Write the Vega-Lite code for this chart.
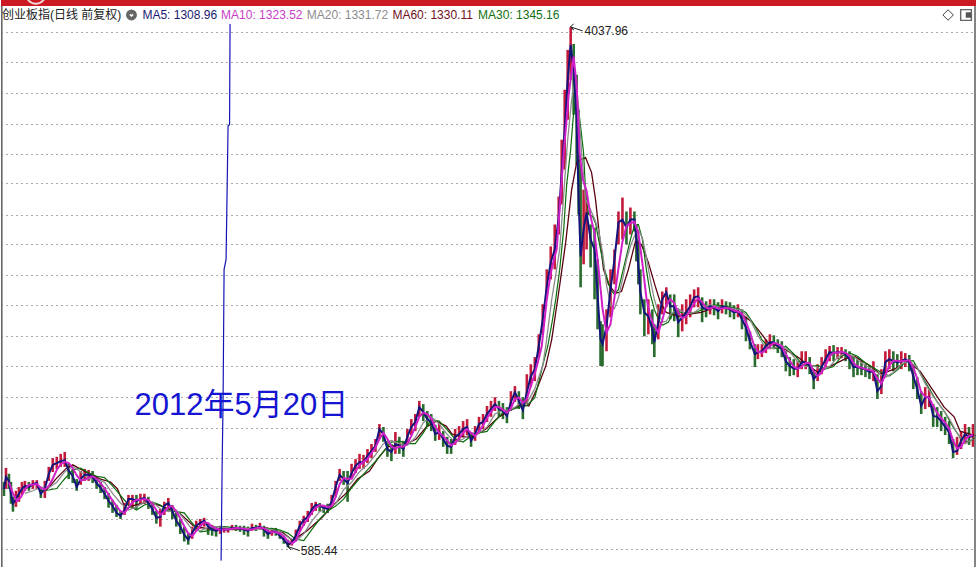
{"$schema":"https://vega.github.io/schema/vega-lite/v6.json","width":979,"height":567,"autosize":{"type":"fit","contains":"padding"},"padding":0,"background":"white","config":{"view":{"stroke":null},"axis":{"title":null},"font":"Liberation Sans"},
"datasets":{
"candles":[{"x":3,"h":746,"l":708,"c":727,"k":"d"},{"x":5,"h":786,"l":727,"c":760,"k":"u"},{"x":8,"h":769,"l":727,"c":749,"k":"d"},{"x":10,"h":746,"l":688,"c":714,"k":"d"},{"x":12,"h":706,"l":668,"c":688,"k":"d"},{"x":15,"h":722,"l":680,"c":700,"k":"u"},{"x":18,"h":732,"l":693,"c":714,"k":"u"},{"x":21,"h":746,"l":711,"c":727,"k":"u"},{"x":24,"h":749,"l":722,"c":735,"k":"u"},{"x":28,"h":746,"l":722,"c":732,"k":"d"},{"x":32,"h":751,"l":727,"c":740,"k":"u"},{"x":36,"h":751,"l":727,"c":743,"k":"u"},{"x":40,"h":727,"l":703,"c":714,"k":"d"},{"x":44,"h":749,"l":703,"c":727,"k":"u"},{"x":48,"h":789,"l":749,"c":769,"k":"u"},{"x":52,"h":815,"l":774,"c":795,"k":"u"},{"x":56,"h":819,"l":783,"c":800,"k":"u"},{"x":60,"h":828,"l":789,"c":806,"k":"u"},{"x":64,"h":834,"l":789,"c":809,"k":"u"},{"x":68,"h":798,"l":754,"c":777,"k":"d"},{"x":72,"h":783,"l":743,"c":763,"k":"d"},{"x":76,"h":754,"l":722,"c":732,"k":"d"},{"x":80,"h":777,"l":738,"c":754,"k":"u"},{"x":84,"h":783,"l":749,"c":766,"k":"u"},{"x":88,"h":780,"l":749,"c":766,"k":"u"},{"x":92,"h":777,"l":743,"c":760,"k":"d"},{"x":96,"h":763,"l":727,"c":743,"k":"d"},{"x":100,"h":746,"l":716,"c":730,"k":"d"},{"x":104,"h":732,"l":700,"c":714,"k":"d"},{"x":108,"h":716,"l":678,"c":695,"k":"d"},{"x":112,"h":698,"l":665,"c":683,"k":"d"},{"x":116,"h":685,"l":655,"c":665,"k":"d"},{"x":120,"h":670,"l":650,"c":658,"k":"d"},{"x":124,"h":690,"l":660,"c":673,"k":"u"},{"x":128,"h":711,"l":683,"c":700,"k":"u"},{"x":132,"h":711,"l":675,"c":700,"k":"u"},{"x":136,"h":711,"l":675,"c":695,"k":"d"},{"x":140,"h":714,"l":685,"c":700,"k":"u"},{"x":144,"h":714,"l":688,"c":703,"k":"u"},{"x":148,"h":706,"l":675,"c":690,"k":"d"},{"x":152,"h":690,"l":660,"c":675,"k":"d"},{"x":156,"h":670,"l":639,"c":653,"k":"d"},{"x":160,"h":675,"l":632,"c":655,"k":"u"},{"x":164,"h":693,"l":660,"c":683,"k":"u"},{"x":168,"h":703,"l":675,"c":690,"k":"u"},{"x":172,"h":685,"l":650,"c":670,"k":"d"},{"x":176,"h":665,"l":632,"c":646,"k":"d"},{"x":180,"h":650,"l":615,"c":632,"k":"d"},{"x":184,"h":632,"l":598,"c":613,"k":"d"},{"x":188,"h":618,"l":591,"c":602,"k":"d"},{"x":192,"h":632,"l":604,"c":618,"k":"u"},{"x":196,"h":646,"l":622,"c":634,"k":"u"},{"x":200,"h":650,"l":627,"c":641,"k":"u"},{"x":204,"h":653,"l":632,"c":646,"k":"u"},{"x":208,"h":641,"l":613,"c":632,"k":"d"},{"x":212,"h":636,"l":611,"c":625,"k":"d"},{"x":216,"h":632,"l":609,"c":622,"k":"d"},{"x":220,"h":634,"l":615,"c":627,"k":"u"},{"x":224,"h":632,"l":618,"c":625,"k":"u"},{"x":228,"h":629,"l":618,"c":625,"k":"u"},{"x":232,"h":636,"l":625,"c":629,"k":"u"},{"x":236,"h":636,"l":622,"c":629,"k":"d"},{"x":240,"h":634,"l":620,"c":627,"k":"d"},{"x":244,"h":634,"l":613,"c":625,"k":"d"},{"x":248,"h":632,"l":609,"c":622,"k":"d"},{"x":252,"h":639,"l":622,"c":629,"k":"u"},{"x":256,"h":636,"l":622,"c":629,"k":"d"},{"x":260,"h":641,"l":625,"c":632,"k":"u"},{"x":264,"h":634,"l":609,"c":625,"k":"d"},{"x":268,"h":625,"l":604,"c":615,"k":"d"},{"x":272,"h":627,"l":611,"c":620,"k":"u"},{"x":276,"h":629,"l":611,"c":620,"k":"d"},{"x":280,"h":620,"l":604,"c":611,"k":"d"},{"x":284,"h":611,"l":593,"c":602,"k":"d"},{"x":288,"h":602,"l":585.44,"c":591,"k":"d"},{"x":292,"h":604,"l":589,"c":596,"k":"u"},{"x":296,"h":625,"l":602,"c":611,"k":"u"},{"x":300,"h":646,"l":622,"c":634,"k":"u"},{"x":304,"h":658,"l":634,"c":648,"k":"u"},{"x":308,"h":670,"l":643,"c":655,"k":"u"},{"x":312,"h":690,"l":660,"c":673,"k":"u"},{"x":316,"h":693,"l":670,"c":685,"k":"u"},{"x":320,"h":690,"l":668,"c":683,"k":"d"},{"x":324,"h":685,"l":665,"c":678,"k":"d"},{"x":328,"h":688,"l":665,"c":675,"k":"d"},{"x":332,"h":711,"l":683,"c":693,"k":"u"},{"x":336,"h":749,"l":706,"c":732,"k":"u"},{"x":340,"h":783,"l":749,"c":766,"k":"u"},{"x":344,"h":777,"l":738,"c":754,"k":"d"},{"x":348,"h":777,"l":693,"c":743,"k":"d"},{"x":352,"h":798,"l":754,"c":771,"k":"u"},{"x":356,"h":812,"l":771,"c":792,"k":"u"},{"x":360,"h":828,"l":783,"c":803,"k":"u"},{"x":364,"h":825,"l":783,"c":803,"k":"u"},{"x":368,"h":843,"l":800,"c":822,"k":"u"},{"x":372,"h":859,"l":815,"c":837,"k":"u"},{"x":376,"h":875,"l":834,"c":853,"k":"u"},{"x":380,"h":925,"l":875,"c":908,"k":"u"},{"x":384,"h":915,"l":866,"c":891,"k":"d"},{"x":388,"h":869,"l":819,"c":843,"k":"d"},{"x":392,"h":859,"l":806,"c":834,"k":"d"},{"x":396,"h":898,"l":828,"c":859,"k":"u"},{"x":400,"h":882,"l":828,"c":853,"k":"d"},{"x":404,"h":869,"l":819,"c":843,"k":"d"},{"x":408,"h":908,"l":856,"c":882,"k":"u"},{"x":412,"h":942,"l":888,"c":915,"k":"u"},{"x":416,"h":960,"l":901,"c":932,"k":"u"},{"x":420,"h":1008,"l":950,"c":985,"k":"u"},{"x":424,"h":996,"l":935,"c":967,"k":"d"},{"x":428,"h":971,"l":915,"c":942,"k":"d"},{"x":432,"h":960,"l":901,"c":932,"k":"d"},{"x":436,"h":922,"l":869,"c":891,"k":"d"},{"x":440,"h":928,"l":872,"c":898,"k":"u"},{"x":444,"h":901,"l":850,"c":875,"k":"d"},{"x":448,"h":882,"l":828,"c":853,"k":"d"},{"x":452,"h":875,"l":828,"c":850,"k":"d"},{"x":456,"h":908,"l":856,"c":882,"k":"u"},{"x":460,"h":918,"l":866,"c":891,"k":"u"},{"x":464,"h":935,"l":882,"c":908,"k":"u"},{"x":468,"h":942,"l":888,"c":915,"k":"u"},{"x":472,"h":895,"l":850,"c":869,"k":"d"},{"x":476,"h":918,"l":869,"c":891,"k":"u"},{"x":480,"h":950,"l":898,"c":925,"k":"u"},{"x":484,"h":960,"l":908,"c":932,"k":"u"},{"x":488,"h":989,"l":932,"c":960,"k":"u"},{"x":492,"h":1008,"l":950,"c":978,"k":"u"},{"x":496,"h":1022,"l":971,"c":996,"k":"u"},{"x":500,"h":1008,"l":950,"c":978,"k":"d"},{"x":504,"h":1000,"l":942,"c":971,"k":"d"},{"x":508,"h":985,"l":928,"c":953,"k":"d"},{"x":512,"h":1045,"l":971,"c":1004,"k":"u"},{"x":516,"h":1065,"l":1004,"c":1041,"k":"u"},{"x":520,"h":1045,"l":978,"c":1008,"k":"d"},{"x":524,"h":1022,"l":942,"c":974,"k":"d"},{"x":528,"h":1113,"l":996,"c":1041,"k":"u"},{"x":532,"h":1155,"l":1061,"c":1105,"k":"u"},{"x":536,"h":1186,"l":1085,"c":1134,"k":"u"},{"x":540,"h":1291,"l":1186,"c":1236,"k":"u"},{"x":544,"h":1443,"l":1291,"c":1365,"k":"u"},{"x":548,"h":1643,"l":1470,"c":1542,"k":"u"},{"x":552,"h":1789,"l":1583,"c":1686,"k":"u"},{"x":556,"h":1941,"l":1643,"c":1769,"k":"u"},{"x":560,"h":2153,"l":1870,"c":1999,"k":"u"},{"x":563,"h":2659,"l":2090,"c":2353,"k":"u"},{"x":566,"h":3201,"l":2379,"c":2760,"k":"u"},{"x":569,"h":3712,"l":2864,"c":3322,"k":"u"},{"x":572,"h":4037.96,"l":3322,"c":3782,"k":"u"},{"x":575,"h":3795,"l":2918,"c":3447,"k":"d"},{"x":578,"h":3384,"l":2424,"c":2864,"k":"d"},{"x":580,"h":2972,"l":2014,"c":2129,"k":"d"},{"x":582,"h":2424,"l":1537,"c":1724,"k":"d"},{"x":585,"h":2209,"l":1674,"c":1905,"k":"u"},{"x":588,"h":2169,"l":1769,"c":2029,"k":"u"},{"x":592,"h":1941,"l":1655,"c":1836,"k":"d"},{"x":596,"h":1917,"l":1470,"c":1769,"k":"d"},{"x":599,"h":1705,"l":1315,"c":1497,"k":"d"},{"x":602,"h":1355,"l":1147,"c":1267,"k":"d"},{"x":604,"h":1340,"l":1147,"c":1244,"k":"d"},{"x":608,"h":1416,"l":1212,"c":1330,"k":"u"},{"x":612,"h":1643,"l":1375,"c":1525,"k":"u"},{"x":616,"h":1769,"l":1554,"c":1705,"k":"u"},{"x":620,"h":2037,"l":1802,"c":1955,"k":"u"},{"x":624,"h":2145,"l":1836,"c":1977,"k":"u"},{"x":628,"h":2037,"l":1802,"c":1917,"k":"d"},{"x":632,"h":2067,"l":1870,"c":1977,"k":"u"},{"x":636,"h":2037,"l":1891,"c":1977,"k":"d"},{"x":638,"h":1941,"l":1692,"c":1836,"k":"d"},{"x":640,"h":1836,"l":1554,"c":1661,"k":"d"},{"x":642,"h":1643,"l":1390,"c":1509,"k":"d"},{"x":646,"h":1470,"l":1281,"c":1400,"k":"d"},{"x":650,"h":1470,"l":1291,"c":1380,"k":"u"},{"x":654,"h":1416,"l":1244,"c":1315,"k":"d"},{"x":656,"h":1340,"l":1186,"c":1253,"k":"d"},{"x":660,"h":1443,"l":1267,"c":1350,"k":"u"},{"x":664,"h":1513,"l":1390,"c":1470,"k":"u"},{"x":668,"h":1537,"l":1427,"c":1509,"k":"u"},{"x":672,"h":1497,"l":1365,"c":1432,"k":"d"},{"x":676,"h":1497,"l":1355,"c":1432,"k":"d"},{"x":680,"h":1416,"l":1277,"c":1350,"k":"d"},{"x":684,"h":1443,"l":1305,"c":1375,"k":"u"},{"x":688,"h":1470,"l":1340,"c":1400,"k":"u"},{"x":692,"h":1497,"l":1375,"c":1432,"k":"u"},{"x":696,"h":1525,"l":1427,"c":1481,"k":"u"},{"x":700,"h":1537,"l":1427,"c":1486,"k":"u"},{"x":704,"h":1481,"l":1350,"c":1427,"k":"d"},{"x":708,"h":1459,"l":1375,"c":1416,"k":"d"},{"x":712,"h":1470,"l":1390,"c":1432,"k":"u"},{"x":716,"h":1470,"l":1385,"c":1427,"k":"d"},{"x":720,"h":1454,"l":1365,"c":1406,"k":"d"},{"x":724,"h":1470,"l":1395,"c":1432,"k":"u"},{"x":728,"h":1459,"l":1390,"c":1427,"k":"d"},{"x":732,"h":1454,"l":1375,"c":1416,"k":"d"},{"x":736,"h":1438,"l":1365,"c":1400,"k":"d"},{"x":740,"h":1443,"l":1375,"c":1406,"k":"u"},{"x":744,"h":1416,"l":1315,"c":1365,"k":"d"},{"x":748,"h":1375,"l":1258,"c":1325,"k":"d"},{"x":752,"h":1305,"l":1221,"c":1258,"k":"d"},{"x":757,"h":1244,"l":1143,"c":1199,"k":"d"},{"x":760,"h":1244,"l":1177,"c":1208,"k":"u"},{"x":764,"h":1244,"l":1186,"c":1212,"k":"u"},{"x":768,"h":1267,"l":1204,"c":1236,"k":"u"},{"x":772,"h":1291,"l":1221,"c":1253,"k":"u"},{"x":776,"h":1286,"l":1221,"c":1253,"k":"d"},{"x":780,"h":1267,"l":1204,"c":1236,"k":"d"},{"x":784,"h":1258,"l":1186,"c":1221,"k":"d"},{"x":788,"h":1212,"l":1125,"c":1168,"k":"d"},{"x":792,"h":1186,"l":1105,"c":1147,"k":"d"},{"x":796,"h":1177,"l":1109,"c":1138,"k":"d"},{"x":800,"h":1168,"l":1101,"c":1134,"k":"u"},{"x":804,"h":1212,"l":1134,"c":1164,"k":"u"},{"x":808,"h":1212,"l":1134,"c":1164,"k":"u"},{"x":812,"h":1186,"l":1113,"c":1147,"k":"d"},{"x":816,"h":1134,"l":1053,"c":1093,"k":"d"},{"x":820,"h":1155,"l":1085,"c":1113,"k":"u"},{"x":824,"h":1186,"l":1113,"c":1143,"k":"u"},{"x":828,"h":1221,"l":1143,"c":1177,"k":"u"},{"x":832,"h":1236,"l":1168,"c":1208,"k":"u"},{"x":836,"h":1240,"l":1168,"c":1204,"k":"d"},{"x":840,"h":1231,"l":1177,"c":1208,"k":"u"},{"x":844,"h":1231,"l":1181,"c":1208,"k":"u"},{"x":848,"h":1221,"l":1168,"c":1199,"k":"d"},{"x":852,"h":1212,"l":1134,"c":1177,"k":"d"},{"x":856,"h":1186,"l":1101,"c":1143,"k":"d"},{"x":860,"h":1177,"l":1109,"c":1143,"k":"d"},{"x":864,"h":1168,"l":1109,"c":1138,"k":"d"},{"x":868,"h":1155,"l":1101,"c":1134,"k":"d"},{"x":872,"h":1151,"l":1093,"c":1121,"k":"d"},{"x":876,"h":1168,"l":1085,"c":1125,"k":"u"},{"x":880,"h":1113,"l":1015,"c":1045,"k":"d"},{"x":884,"h":1134,"l":1034,"c":1065,"k":"u"},{"x":888,"h":1212,"l":1113,"c":1164,"k":"u"},{"x":892,"h":1221,"l":1134,"c":1177,"k":"u"},{"x":896,"h":1212,"l":1125,"c":1168,"k":"d"},{"x":900,"h":1199,"l":1134,"c":1164,"k":"d"},{"x":904,"h":1212,"l":1134,"c":1168,"k":"u"},{"x":908,"h":1204,"l":1143,"c":1177,"k":"u"},{"x":912,"h":1195,"l":1125,"c":1164,"k":"d"},{"x":916,"h":1155,"l":1053,"c":1105,"k":"d"},{"x":920,"h":1101,"l":1015,"c":1053,"k":"d"},{"x":924,"h":1045,"l":960,"c":989,"k":"d"},{"x":928,"h":1061,"l":978,"c":1022,"k":"u"},{"x":932,"h":1053,"l":985,"c":1022,"k":"u"},{"x":936,"h":996,"l":915,"c":953,"k":"d"},{"x":940,"h":985,"l":915,"c":950,"k":"d"},{"x":944,"h":971,"l":901,"c":935,"k":"d"},{"x":948,"h":950,"l":888,"c":915,"k":"d"},{"x":952,"h":935,"l":859,"c":898,"k":"d"},{"x":956,"h":875,"l":815,"c":834,"k":"d"},{"x":960,"h":882,"l":825,"c":837,"k":"u"},{"x":964,"h":901,"l":843,"c":869,"k":"u"},{"x":968,"h":925,"l":859,"c":891,"k":"u"},{"x":972,"h":915,"l":856,"c":882,"k":"d"},{"x":976,"h":925,"l":850,"c":885,"k":"u"}],
"ma10":[{"x":8,"v":745},{"x":12,"v":715},{"x":16,"v":695},{"x":20,"v":705},{"x":24,"v":725},{"x":28,"v":738},{"x":32,"v":738},{"x":36,"v":740},{"x":40,"v":730},{"x":44,"v":725},{"x":48,"v":735},{"x":52,"v":755},{"x":56,"v":780},{"x":60,"v":797},{"x":64,"v":804},{"x":68,"v":800},{"x":72,"v":785},{"x":76,"v":765},{"x":80,"v":750},{"x":84,"v":752},{"x":88,"v":758},{"x":92,"v":762},{"x":96,"v":755},{"x":100,"v":743},{"x":104,"v":728},{"x":108,"v":712},{"x":112,"v":696},{"x":116,"v":682},{"x":120,"v":669},{"x":124,"v":665},{"x":128,"v":678},{"x":132,"v":692},{"x":136,"v":698},{"x":140,"v":698},{"x":144,"v":700},{"x":148,"v":698},{"x":152,"v":687},{"x":156,"v":672},{"x":160,"v":660},{"x":164,"v":668},{"x":168,"v":680},{"x":172,"v":682},{"x":176,"v":668},{"x":180,"v":652},{"x":184,"v":633},{"x":188,"v":616},{"x":192,"v":610},{"x":196,"v":622},{"x":200,"v":633},{"x":204,"v":642},{"x":208,"v":640},{"x":212,"v":632},{"x":216,"v":627},{"x":220,"v":625},{"x":224,"v":625},{"x":228,"v":626},{"x":232,"v":627},{"x":236,"v":629},{"x":240,"v":628},{"x":244,"v":627},{"x":248,"v":625},{"x":252,"v":625},{"x":256,"v":628},{"x":260,"v":630},{"x":264,"v":628},{"x":268,"v":622},{"x":272,"v":619},{"x":276,"v":619},{"x":280,"v":616},{"x":284,"v":609},{"x":288,"v":599},{"x":292,"v":593},{"x":296,"v":600},{"x":300,"v":620},{"x":304,"v":637},{"x":308,"v":650},{"x":312,"v":665},{"x":316,"v":678},{"x":320,"v":684},{"x":324,"v":683},{"x":328,"v":680},{"x":332,"v":682},{"x":336,"v":705},{"x":340,"v":740},{"x":344,"v":757},{"x":348,"v":755},{"x":352,"v":755},{"x":356,"v":775},{"x":360,"v":795},{"x":364,"v":803},{"x":368,"v":812},{"x":372,"v":830},{"x":376,"v":848},{"x":380,"v":875},{"x":384,"v":895},{"x":388,"v":875},{"x":392,"v":850},{"x":396,"v":845},{"x":400,"v":850},{"x":404,"v":850},{"x":408,"v":860},{"x":412,"v":885},{"x":416,"v":915},{"x":420,"v":950},{"x":424,"v":965},{"x":428,"v":960},{"x":432,"v":945},{"x":436,"v":915},{"x":440,"v":895},{"x":444,"v":885},{"x":448,"v":870},{"x":452,"v":855},{"x":456,"v":862},{"x":460,"v":878},{"x":464,"v":895},{"x":468,"v":908},{"x":472,"v":895},{"x":476,"v":885},{"x":480,"v":900},{"x":484,"v":920},{"x":488,"v":945},{"x":492,"v":967},{"x":496,"v":985},{"x":500,"v":985},{"x":504,"v":975},{"x":508,"v":965},{"x":512,"v":980},{"x":516,"v":1015},{"x":520,"v":1020},{"x":524,"v":1000},{"x":528,"v":1015},{"x":532,"v":1065},{"x":536,"v":1115},{"x":540,"v":1180},{"x":543,"v":1236},{"x":548,"v":1470},{"x":552,"v":1620},{"x":555,"v":1700},{"x":558,"v":1769},{"x":562,"v":2170},{"x":565,"v":2530},{"x":570,"v":3140},{"x":575,"v":3620},{"x":578,"v":3250},{"x":581,"v":2535},{"x":584,"v":2300},{"x":588,"v":2200},{"x":592,"v":2000},{"x":596,"v":1880},{"x":600,"v":1650},{"x":604,"v":1420},{"x":608,"v":1300},{"x":612,"v":1340},{"x":616,"v":1480},{"x":620,"v":1650},{"x":624,"v":1820},{"x":628,"v":1930},{"x":632,"v":1950},{"x":636,"v":1960},{"x":640,"v":1880},{"x":644,"v":1680},{"x":648,"v":1480},{"x":652,"v":1380},{"x":656,"v":1330},{"x":660,"v":1300},{"x":664,"v":1360},{"x":668,"v":1440},{"x":672,"v":1470},{"x":676,"v":1450},{"x":680,"v":1400},{"x":684,"v":1370},{"x":688,"v":1380},{"x":692,"v":1410},{"x":696,"v":1450},{"x":700,"v":1475},{"x":704,"v":1455},{"x":708,"v":1425},{"x":712,"v":1420},{"x":716,"v":1430},{"x":720,"v":1420},{"x":724,"v":1420},{"x":728,"v":1425},{"x":732,"v":1420},{"x":736,"v":1410},{"x":740,"v":1405},{"x":744,"v":1395},{"x":748,"v":1350},{"x":752,"v":1300},{"x":756,"v":1240},{"x":760,"v":1210},{"x":764,"v":1205},{"x":768,"v":1220},{"x":772,"v":1235},{"x":776,"v":1250},{"x":780,"v":1245},{"x":784,"v":1235},{"x":788,"v":1200},{"x":792,"v":1170},{"x":796,"v":1145},{"x":800,"v":1135},{"x":804,"v":1145},{"x":808,"v":1160},{"x":812,"v":1160},{"x":816,"v":1125},{"x":820,"v":1105},{"x":824,"v":1120},{"x":828,"v":1150},{"x":832,"v":1190},{"x":836,"v":1205},{"x":840,"v":1205},{"x":844,"v":1210},{"x":848,"v":1205},{"x":852,"v":1190},{"x":856,"v":1160},{"x":860,"v":1145},{"x":864,"v":1140},{"x":868,"v":1135},{"x":872,"v":1130},{"x":876,"v":1125},{"x":880,"v":1095},{"x":884,"v":1075},{"x":888,"v":1110},{"x":892,"v":1150},{"x":896,"v":1170},{"x":900,"v":1170},{"x":904,"v":1168},{"x":908,"v":1170},{"x":912,"v":1172},{"x":916,"v":1140},{"x":920,"v":1095},{"x":924,"v":1040},{"x":928,"v":1025},{"x":932,"v":1020},{"x":936,"v":990},{"x":940,"v":965},{"x":944,"v":945},{"x":948,"v":930},{"x":952,"v":910},{"x":956,"v":870},{"x":960,"v":845},{"x":964,"v":850},{"x":968,"v":872},{"x":972,"v":885},{"x":976,"v":888}],
"ma20":[{"x":24,"v":715},{"x":32,"v":722},{"x":40,"v":732},{"x":48,"v":730},{"x":56,"v":745},{"x":64,"v":775},{"x":72,"v":790},{"x":80,"v":775},{"x":88,"v":755},{"x":96,"v":755},{"x":104,"v":745},{"x":112,"v":715},{"x":120,"v":690},{"x":128,"v":672},{"x":136,"v":680},{"x":144,"v":692},{"x":152,"v":693},{"x":160,"v":675},{"x":168,"v":668},{"x":176,"v":672},{"x":184,"v":650},{"x":192,"v":625},{"x":200,"v":622},{"x":208,"v":630},{"x":216,"v":632},{"x":224,"v":630},{"x":232,"v":627},{"x":240,"v":627},{"x":248,"v":628},{"x":256,"v":627},{"x":264,"v":628},{"x":272,"v":625},{"x":280,"v":620},{"x":288,"v":608},{"x":296,"v":598},{"x":304,"v":615},{"x":312,"v":645},{"x":320,"v":668},{"x":328,"v":680},{"x":336,"v":688},{"x":344,"v":725},{"x":352,"v":745},{"x":360,"v":775},{"x":368,"v":795},{"x":376,"v":825},{"x":384,"v":860},{"x":392,"v":870},{"x":400,"v":860},{"x":408,"v":855},{"x":416,"v":880},{"x":424,"v":930},{"x":432,"v":950},{"x":440,"v":925},{"x":448,"v":890},{"x":456,"v":865},{"x":464,"v":875},{"x":472,"v":895},{"x":480,"v":895},{"x":488,"v":915},{"x":496,"v":960},{"x":504,"v":975},{"x":512,"v":975},{"x":520,"v":995},{"x":528,"v":1000},{"x":536,"v":1055},{"x":544,"v":1150},{"x":547,"v":1236},{"x":553,"v":1470},{"x":557,"v":1610},{"x":561,"v":1769},{"x":565,"v":2170},{"x":569,"v":2659},{"x":573,"v":3085},{"x":577,"v":3347},{"x":580,"v":3000},{"x":583,"v":2530},{"x":587,"v":2129},{"x":592,"v":2050},{"x":596,"v":1980},{"x":600,"v":1900},{"x":604,"v":1750},{"x":608,"v":1550},{"x":612,"v":1440},{"x":616,"v":1420},{"x":620,"v":1480},{"x":624,"v":1580},{"x":628,"v":1700},{"x":632,"v":1790},{"x":636,"v":1860},{"x":640,"v":1900},{"x":644,"v":1850},{"x":648,"v":1720},{"x":652,"v":1580},{"x":656,"v":1470},{"x":660,"v":1400},{"x":664,"v":1350},{"x":668,"v":1355},{"x":672,"v":1390},{"x":680,"v":1420},{"x":688,"v":1390},{"x":696,"v":1400},{"x":704,"v":1430},{"x":712,"v":1440},{"x":720,"v":1430},{"x":728,"v":1425},{"x":736,"v":1420},{"x":744,"v":1410},{"x":752,"v":1365},{"x":760,"v":1285},{"x":768,"v":1225},{"x":776,"v":1225},{"x":784,"v":1240},{"x":792,"v":1210},{"x":800,"v":1165},{"x":808,"v":1145},{"x":816,"v":1150},{"x":824,"v":1130},{"x":832,"v":1145},{"x":840,"v":1185},{"x":848,"v":1205},{"x":856,"v":1190},{"x":864,"v":1160},{"x":872,"v":1140},{"x":880,"v":1120},{"x":888,"v":1100},{"x":896,"v":1120},{"x":904,"v":1155},{"x":912,"v":1170},{"x":920,"v":1140},{"x":928,"v":1075},{"x":936,"v":1025},{"x":944,"v":985},{"x":952,"v":945},{"x":960,"v":895},{"x":968,"v":860},{"x":976,"v":875}],
"ma30":[{"x":40,"v":722},{"x":48,"v":724},{"x":56,"v":728},{"x":64,"v":755},{"x":72,"v":780},{"x":80,"v":785},{"x":88,"v":772},{"x":96,"v":762},{"x":104,"v":758},{"x":112,"v":735},{"x":120,"v":710},{"x":128,"v":685},{"x":136,"v":672},{"x":144,"v":685},{"x":152,"v":692},{"x":160,"v":685},{"x":168,"v":670},{"x":176,"v":668},{"x":184,"v":665},{"x":192,"v":640},{"x":200,"v":620},{"x":208,"v":622},{"x":216,"v":632},{"x":224,"v":632},{"x":232,"v":630},{"x":240,"v":628},{"x":248,"v":628},{"x":256,"v":627},{"x":264,"v":627},{"x":272,"v":628},{"x":280,"v":624},{"x":288,"v":617},{"x":296,"v":603},{"x":304,"v":600},{"x":312,"v":625},{"x":320,"v":650},{"x":328,"v":670},{"x":336,"v":682},{"x":344,"v":700},{"x":352,"v":730},{"x":360,"v":755},{"x":368,"v":780},{"x":376,"v":805},{"x":384,"v":835},{"x":392,"v":865},{"x":400,"v":868},{"x":408,"v":860},{"x":416,"v":860},{"x":424,"v":895},{"x":432,"v":940},{"x":440,"v":935},{"x":448,"v":905},{"x":456,"v":875},{"x":464,"v":865},{"x":472,"v":885},{"x":480,"v":895},{"x":488,"v":900},{"x":496,"v":935},{"x":504,"v":965},{"x":512,"v":975},{"x":520,"v":985},{"x":528,"v":990},{"x":536,"v":1020},{"x":544,"v":1150},{"x":549,"v":1236},{"x":553,"v":1340},{"x":557,"v":1470},{"x":561,"v":1643},{"x":565,"v":1905},{"x":568,"v":2250},{"x":572,"v":2563},{"x":575,"v":2950},{"x":578,"v":3117},{"x":581,"v":2880},{"x":585,"v":2530},{"x":587,"v":2185},{"x":590,"v":2014},{"x":594,"v":2000},{"x":597,"v":1950},{"x":600,"v":1836},{"x":606,"v":1643},{"x":612,"v":1525},{"x":616,"v":1497},{"x":620,"v":1525},{"x":626,"v":1674},{"x":632,"v":1836},{"x":636,"v":1934},{"x":640,"v":1941},{"x":644,"v":1836},{"x":648,"v":1643},{"x":652,"v":1497},{"x":656,"v":1416},{"x":660,"v":1365},{"x":664,"v":1335},{"x":670,"v":1350},{"x":676,"v":1406},{"x":684,"v":1400},{"x":692,"v":1395},{"x":700,"v":1405},{"x":708,"v":1425},{"x":716,"v":1440},{"x":724,"v":1435},{"x":732,"v":1428},{"x":740,"v":1420},{"x":748,"v":1400},{"x":756,"v":1340},{"x":764,"v":1265},{"x":772,"v":1225},{"x":780,"v":1225},{"x":788,"v":1235},{"x":796,"v":1200},{"x":804,"v":1155},{"x":812,"v":1145},{"x":820,"v":1150},{"x":828,"v":1135},{"x":836,"v":1145},{"x":844,"v":1190},{"x":852,"v":1205},{"x":860,"v":1190},{"x":868,"v":1160},{"x":876,"v":1140},{"x":884,"v":1120},{"x":892,"v":1105},{"x":900,"v":1130},{"x":908,"v":1165},{"x":916,"v":1170},{"x":924,"v":1110},{"x":932,"v":1055},{"x":940,"v":1005},{"x":948,"v":965},{"x":956,"v":915},{"x":964,"v":875},{"x":972,"v":865},{"x":978,"v":880}],
"ma60":[{"x":45,"v":722},{"x":55,"v":754},{"x":65,"v":783},{"x":72,"v":795},{"x":85,"v":774},{"x":100,"v":754},{"x":110,"v":746},{"x":117,"v":727},{"x":125,"v":675},{"x":133,"v":683},{"x":147,"v":693},{"x":160,"v":683},{"x":180,"v":663},{"x":193,"v":634},{"x":207,"v":627},{"x":233,"v":625},{"x":267,"v":629},{"x":283,"v":618},{"x":293,"v":600},{"x":307,"v":622},{"x":322,"v":653},{"x":333,"v":683},{"x":348,"v":719},{"x":358,"v":754},{"x":370,"v":777},{"x":378,"v":812},{"x":388,"v":850},{"x":407,"v":859},{"x":417,"v":875},{"x":427,"v":915},{"x":437,"v":935},{"x":447,"v":918},{"x":453,"v":891},{"x":463,"v":882},{"x":473,"v":882},{"x":487,"v":908},{"x":500,"v":950},{"x":510,"v":971},{"x":523,"v":996},{"x":530,"v":989},{"x":538,"v":1053},{"x":547,"v":1147},{"x":553,"v":1267},{"x":560,"v":1509},{"x":567,"v":1816},{"x":573,"v":2209},{"x":578,"v":2442},{"x":582,"v":2469},{"x":587,"v":2487},{"x":593,"v":2353},{"x":597,"v":2129},{"x":601,"v":1857},{"x":605,"v":1643},{"x":610,"v":1554},{"x":617,"v":1503},{"x":623,"v":1513},{"x":630,"v":1643},{"x":637,"v":1823},{"x":643,"v":1802},{"x":650,"v":1686},{"x":657,"v":1542},{"x":662,"v":1454},{"x":668,"v":1400},{"x":680,"v":1380},{"x":690,"v":1390},{"x":703,"v":1400},{"x":720,"v":1432},{"x":740,"v":1406},{"x":753,"v":1355},{"x":760,"v":1315},{"x":770,"v":1253},{"x":787,"v":1221},{"x":800,"v":1186},{"x":813,"v":1143},{"x":820,"v":1121},{"x":833,"v":1147},{"x":847,"v":1177},{"x":857,"v":1190},{"x":873,"v":1147},{"x":883,"v":1113},{"x":897,"v":1134},{"x":910,"v":1168},{"x":923,"v":1125},{"x":937,"v":1041},{"x":947,"v":985},{"x":957,"v":950},{"x":963,"v":901},{"x":979,"v":885}],
"marker":[{"n":1,"x":230,"v":4087},{"n":2,"x":229.5,"v":2812},{"n":3,"x":228,"v":2800},{"n":4,"x":226,"v":1705},{"n":5,"x":224,"v":1643},{"n":6,"x":223,"v":1015},{"n":7,"x":222,"v":783},{"n":8,"x":221,"v":557}],
"callouts":[{"g":"a","n":1,"x":575,"v":4090},{"g":"a","n":2,"x":572,"v":4042},{"g":"a","n":3,"x":575,"v":3998},{"g":"a","n":4,"x":572,"v":4042},{"g":"a","n":5,"x":584,"v":3983},{"g":"b","n":1,"x":291,"v":595},{"g":"b","n":2,"x":288,"v":587},{"g":"b","n":3,"x":291,"v":580},{"g":"b","n":4,"x":288,"v":587},{"g":"b","n":5,"x":300,"v":578}],
"text":[{"t":"创业板指(日线 前复权)","x":1,"v":4225,"k":"head"},{"t":"MA5: 1308.96","x":142,"v":4225,"k":"ma5"},{"t":"MA10: 1323.52","x":221,"v":4225,"k":"ma10"},{"t":"MA20: 1331.72","x":307,"v":4225,"k":"ma20"},{"t":"MA60: 1330.11","x":393,"v":4225,"k":"ma60"},{"t":"MA30: 1345.16","x":479,"v":4225,"k":"ma30"},{"t":"4037.96","x":586,"v":3983,"k":"head"},{"t":"585.44","x":301,"v":578,"k":"head"}]
},
"encoding":{"x":{"field":"x","type":"quantitative","scale":{"domain":[0,979],"nice":false,"zero":false},"axis":null},"y":{"field":"v","type":"quantitative","scale":{"type":"log","domain":[546,4467],"nice":false},"axis":{"domain":false,"ticks":false,"labels":false,"grid":true,"gridColor":"#555555","gridDash":[1,4],"gridOpacity":1,"gridWidth":1,"values":[3968,3551,3166,2822,2525,2260,2014,1802,1607,1438,1281,1147,1022,911,815,729,650,582]}}},
"layer":[
{"data":{"name":"candles"},"mark":{"type":"rule","strokeWidth":2.6},"encoding":{"y":{"field":"h","type":"quantitative","scale":{"type":"log","domain":[546,4467],"nice":false},"axis":{"domain":false,"ticks":false,"labels":false,"grid":true,"gridColor":"#555555","gridDash":[1,4],"gridOpacity":1,"gridWidth":1,"values":[3968,3551,3166,2822,2525,2260,2014,1802,1607,1438,1281,1147,1022,911,815,729,650,582]}},"y2":{"field":"l"},"color":{"field":"k","type":"nominal","legend":null,"scale":{"domain":["u","d","head","ma5","ma10","ma20","ma60","ma30"],"range":["#c41a3c","#2a6b2e","#222222","#1a1a70","#c83cc8","#8c8c8c","#701020","#107010"]}}}},
{"data":{"name":"ma60"},"mark":{"type":"line","color":"#5a0010","strokeWidth":1.3},"encoding":{}},
{"data":{"name":"ma30"},"mark":{"type":"line","color":"#0a6e0a","strokeWidth":1.2},"encoding":{}},
{"data":{"name":"ma20"},"mark":{"type":"line","color":"#8c8c8c","strokeWidth":1.3},"encoding":{}},
{"data":{"name":"candles"},"mark":{"type":"line","color":"#14147d","strokeWidth":2},"encoding":{"y":{"field":"c","type":"quantitative","scale":{"type":"log","domain":[546,4467],"nice":false},"axis":{"domain":false,"ticks":false,"labels":false,"grid":true,"gridColor":"#555555","gridDash":[1,4],"gridOpacity":1,"gridWidth":1,"values":[3968,3551,3166,2822,2525,2260,2014,1802,1607,1438,1281,1147,1022,911,815,729,650,582]}}}},
{"data":{"name":"ma10"},"mark":{"type":"line","color":"#d020c8","strokeWidth":2},"encoding":{}},
{"data":{"name":"marker"},"mark":{"type":"line","color":"#1414b4","strokeWidth":1.2},"encoding":{"order":{"field":"n"}}},
{"data":{"name":"callouts"},"mark":{"type":"line","color":"#222222","strokeWidth":1},"encoding":{"detail":{"field":"g"},"order":{"field":"n"}}},
{"data":{"values":[{"x":0,"x2":979,"v":4467,"v2":4368}]},"mark":{"type":"rect","color":"#cc1a22"},"encoding":{"x2":{"field":"x2"},"y2":{"field":"v2"}}},
{"data":{"values":[{"x":35,"v":4568}]},"mark":{"type":"point","filled":false,"stroke":"#f2d7d7","strokeWidth":2,"size":380,"opacity":1,"clip":true},"encoding":{}},
{"data":{"values":[{"x":0.8},{"x":978}]},"mark":{"type":"rule","color":"#666666","strokeWidth":1.6},"encoding":{"y":{"value":6},"y2":{"value":567}}},
{"data":{"name":"text"},"mark":{"type":"text","align":"left","baseline":"middle","fontSize":12,"font":"Liberation Sans, Noto Sans CJK SC"},"encoding":{"text":{"field":"t"},"color":{"field":"k","type":"nominal","legend":null,"scale":{"domain":["u","d","head","ma5","ma10","ma20","ma60","ma30"],"range":["#c41a3c","#2a6b2e","#222222","#1a1a70","#c83cc8","#8c8c8c","#701020","#107010"]}}}},
{"data":{"values":[{"t":"2012年5月20日","x":134,"v":988}]},"mark":{"type":"text","align":"left","baseline":"middle","fontSize":31,"color":"#1414d2","font":"Liberation Sans, Noto Sans CJK SC"},"encoding":{"text":{"field":"t"}}},
{"data":{"values":[{"x":131,"v":4225}]},"mark":{"type":"point","filled":true,"color":"#666666","size":120,"opacity":1},"encoding":{}},
{"data":{"values":[{"x":131,"v":4225}]},"mark":{"type":"point","shape":"M-0.5,-0.2L0,0.3L0.5,-0.2","filled":false,"stroke":"white","strokeWidth":1.5,"size":40,"opacity":1},"encoding":{}},
{"data":{"values":[{"x":951,"v":4225}]},"mark":{"type":"point","shape":"diamond","filled":false,"stroke":"#444444","strokeWidth":1,"size":110,"opacity":1},"encoding":{}},
{"data":{"values":[{"x":969,"v":4225}]},"mark":{"type":"square","filled":false,"stroke":"#666666","strokeWidth":1.4,"size":115,"opacity":1},"encoding":{}},
{"data":{"values":[{"x":971.5,"v":4225}]},"mark":{"type":"square","color":"#555555","size":30,"opacity":1},"encoding":{}}
]}
